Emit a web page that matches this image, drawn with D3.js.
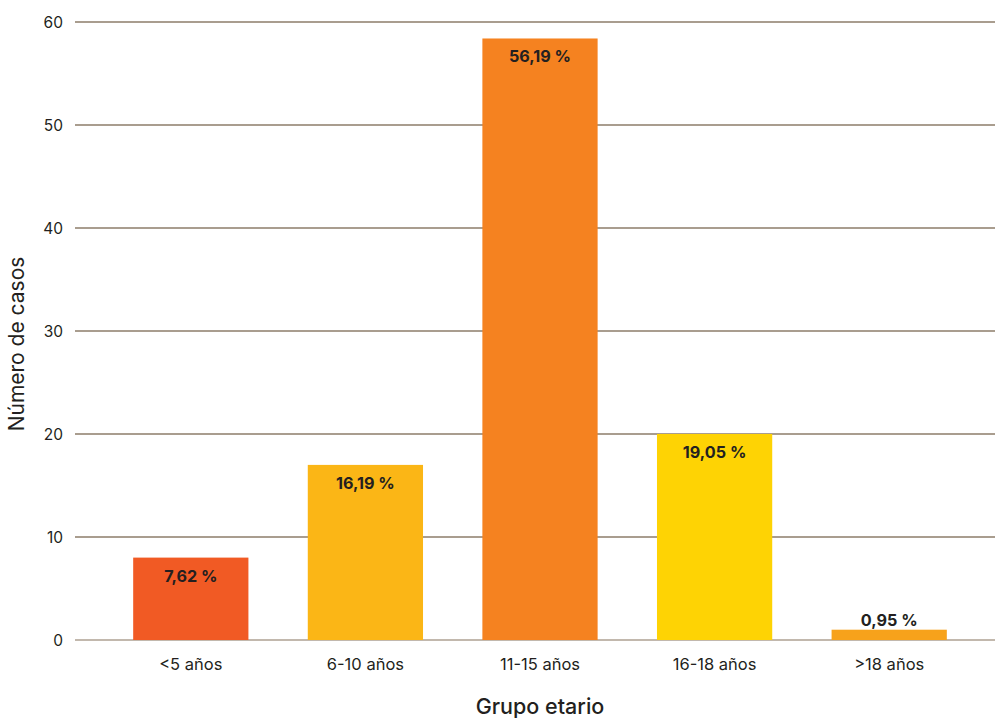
<!DOCTYPE html>
<html><head><meta charset="utf-8">
<script src="https://cdn.jsdelivr.net/npm/d3@7"></script>
<style>body{margin:0;background:#fff;} text{font-family:Inter, "Open Sans", sans-serif;}</style>
</head><body><svg id="c" width="995" height="718"></svg>
<script>
const categories = ["<5 años","6-10 años","11-15 años","16-18 años",">18 años"];
const values = [8, 17, 58.4, 20, 1];
const percentLabels = ["7,62 %","16,19 %","56,19 %","19,05 %","0,95 %"];
const colors = ["#f15a24","#fbb616","#f58220","#fed304","#f7a21b"];
const yTicks = [0,10,20,30,40,50,60];

const svg = d3.select("#c");
const x = d3.scaleBand().domain(categories).range([103.5,976.5]).paddingInner(0.34).paddingOuter(0.17);
const y = d3.scaleLinear().domain([0,60]).range([640,22]);

svg.append("g").selectAll("line").data(yTicks).join("line")
  .attr("x1",75).attr("x2",995)
  .attr("y1",d=>y(d)).attr("y2",d=>y(d))
  .attr("stroke",d=>d===0?"#c2b8ad":"#a99d8f").attr("stroke-width",2);

svg.append("g").selectAll("text").data(yTicks).join("text")
  .attr("x",63).attr("y",d=>y(d)).attr("dy","0.36em")
  .attr("text-anchor","end").attr("font-size",15.5).attr("fill","#231f20")
  .text(d=>d);

svg.append("g").selectAll("rect").data(values).join("rect")
  .attr("x",(d,i)=>x(categories[i])).attr("width",x.bandwidth())
  .attr("y",d=>y(d)).attr("height",d=>y(0)-y(d))
  .attr("fill",(d,i)=>colors[i]);

svg.append("g").selectAll("text").data(values).join("text")
  .attr("x",(d,i)=>x(categories[i])+x.bandwidth()/2)
  .attr("y",d=> (y(0)-y(d))>30 ? y(d)+24 : y(d)-4)
  .attr("text-anchor","middle").attr("font-size",16.2).attr("font-weight",700).attr("fill","#231f20")
  .text((d,i)=>percentLabels[i]);

svg.append("g").selectAll("text").data(categories).join("text")
  .attr("x",d=>x(d)+x.bandwidth()/2).attr("y",670)
  .attr("text-anchor","middle").attr("font-size",16.5).attr("fill","#231f20")
  .text(d=>d);

svg.append("text").attr("x",540).attr("y",714).attr("text-anchor","middle")
  .attr("font-size",21.5).attr("font-weight",500).attr("fill","#231f20").text("Grupo etario");
svg.append("text").attr("transform","translate(24,344) rotate(-90)").attr("text-anchor","middle")
  .attr("font-size",21).attr("font-weight",400).attr("fill","#231f20").text("Número de casos");
</script></body></html>
